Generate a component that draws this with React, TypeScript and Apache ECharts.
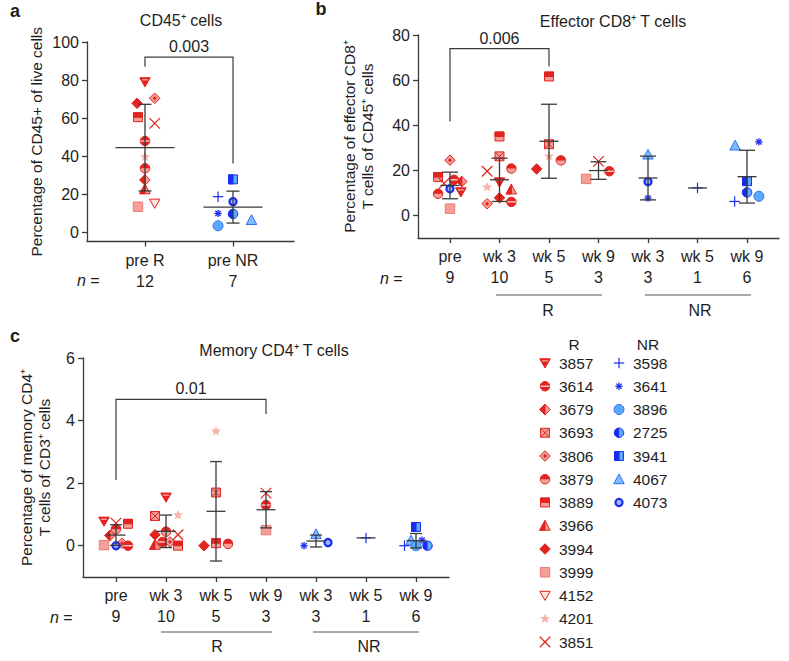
import React, { useEffect, useRef } from 'react';
import * as echarts from 'echarts';

// ---------- categories & counts ----------
const aCategories = ['pre R', 'pre NR'];
const aCounts = [12, 7];
const bCategories = ['pre', 'wk 3', 'wk 5', 'wk 9', 'wk 3', 'wk 5', 'wk 9'];
const bCounts = [9, 10, 5, 3, 3, 1, 6];
const cCategories = ['pre', 'wk 3', 'wk 5', 'wk 9', 'wk 3', 'wk 5', 'wk 9'];
const cCounts = [9, 10, 5, 3, 3, 1, 6];

// ---------- tick labels ----------
const aTicks = [0, 20, 40, 60, 80, 100];
const bTicks = [0, 20, 40, 60, 80];
const cTicks = [0, 2, 4, 6];

// ---------- legend ----------
const legendR = ['3857', '3614', '3679', '3693', '3806', '3879', '3889', '3966', '3994', '3999', '4152', '4201', '3851'];
const legendNR = ['3598', '3641', '3896', '2725', '3941', '4067', '4073'];

// ---------- panel a: CD45+ cells (% of live cells) ----------
const aPreR: [string, number][] = [['3857', 79], ['3806', 70.4], ['3994', 67.7], ['3889', 60.4], ['3851', 57.2], ['3614', 47.9], ['4201', 39.6], ['3879', 33.5], ['3679', 27.4], ['3966', 22.5], ['4152', 15.1], ['3999', 13.3]];
const aPreNR: [string, number][] = [['3941', 27.7], ['3598', 18.6], ['4073', 16], ['3641', 9.8], ['2725', 9.5], ['4067', 6.3], ['3896', 3.3]];
const aMean = [44.4, 13.1];
const aSD = [22.8, 8.4];
const aBracket = [0, 1, 92, 87, 36];
const aP = '0.003';

// ---------- panel b: effector CD8+ T cells (% of CD45+) ----------
const bPre: [string, number][] = [['3806', 24.5], ['3889', 17], ['3851', 14.2], ['3614', 15.8], ['3679', 15], ['3857', 10.4], ['4073', 11.8], ['3879', 9.6], ['3999', 3]];
const bWk3R: [string, number][] = [['3889', 35], ['3693', 26.2], ['3851', 19.6], ['3879', 20.8], ['4201', 12.5], ['3857', 14.8], ['3966', 11.5], ['3994', 7.8], ['3806', 5.2], ['3614', 6.0]];
const bWk5R: [string, number][] = [['3889', 61.6], ['3693', 31.6], ['4201', 26.2], ['3994', 20.6], ['3879', 24.4]];
const bWk9R: [string, number][] = [['3851', 24], ['3614', 19.6], ['3999', 16.2]];
const bWk3NR: [string, number][] = [['4067', 27], ['4073', 15], ['3641', 7.7]];
const bWk5NR: [string, number][] = [['3598', 12.2]];
const bWk9NR: [string, number][] = [['4067', 31], ['3641', 32.6], ['3941', 15.2], ['2725', 10.2], ['3896', 8.5], ['3598', 6.2]];
const bMean = [13.3, 15.8, 32.9, 19.9, 16.6, 12.2, 17.2];
const bSD = [5.9, 9.6, 16.4, 3.9, 9.7, 0, 11.7];
const bBracket = [0, 2, 74, 41.7, 66];
const bP = '0.006';

// ---------- panel c: memory CD4+ T cells (% of CD3+) ----------
const cPre: [string, number][] = [['3857', 0.78], ['3851', 0.72], ['3889', 0.7], ['3879', 0.53], ['3679', 0.33], ['3806', 0.08], ['3999', 0.02], ['4073', 0], ['3614', 0]];
const cWk3R: [string, number][] = [['3857', 1.55], ['3693', 0.95], ['4201', 0.98], ['3851', 0.35], ['3994', 0.35], ['3879', 0.45], ['3966', 0.03], ['3614', 0.12], ['3806', 0.12], ['3889', 0]];
const cWk5R: [string, number][] = [['4201', 3.66], ['3693', 1.7], ['3889', 0.08], ['3994', 0], ['3879', 0.06]];
const cWk9R: [string, number][] = [['3851', 1.68], ['3614', 1.3], ['3999', 0.5]];
const cWk3NR: [string, number][] = [['4067', 0.37], ['3641', 0], ['4073', 0.1]];
const cWk5NR: [string, number][] = [['3598', 0.25]];
const cWk9NR: [string, number][] = [['3941', 0.6], ['4067', 0.17], ['3641', 0.18], ['3598', 0], ['2725', 0], ['3896', 0]];
const cMean = [0.34, 0.46, 1.1, 1.15, 0.15, 0.25, 0.16];
const cSD = [0.33, 0.52, 1.59, 0.58, 0.19, 0, 0.23];
const cBracket = [0, 3, 4.68, 2.1, 4.21];
const cP = '0.01';

// ---------- layout: horizontal jitter (in category units) ----------
const aJitter = [
  [0, 0.11, -0.09, -0.08, 0.11, 0, 0, 0, 0, 0, 0.11, -0.08],
  [0, -0.17, 0, -0.17, 0, 0.21, -0.17],
];
const bJitter = [
  [0, -0.24, -0.12, 0.08, 0.24, 0.22, 0, -0.24, 0],
  [0, 0, -0.25, 0.24, -0.25, 0, 0.24, 0, -0.25, 0.24],
  [0, 0, 0, -0.25, 0.24],
  [0, 0.22, -0.25],
  [0, 0, 0],
  [0],
  [-0.24, 0.24, 0, 0, 0.24, -0.25],
];
const cJitter = [
  [-0.24, 0, 0.24, 0, -0.12, 0.12, -0.24, 0, 0.24],
  [0, -0.22, 0.24, 0.24, -0.22, 0, -0.22, -0.07, 0.08, 0.24],
  [0, 0, 0, -0.24, 0.24],
  [0, 0, 0],
  [0, -0.24, 0.24],
  [0],
  [0, -0.1, 0.12, -0.23, 0.23, 0],
];

// ---------- styles ----------
const FONT = '"Liberation Sans", Arial, Helvetica, sans-serif';
const FS = 16;
const TXT = '#1e1e1e';
const AX = '#3a3a3a';
const RED = '#e2231f';
const RED_L = '#f3a098';
const RED_P = '#f7b4ab';
const RED_XL = '#fcdcd8';
const BLUE = '#1b2cf0';
const BLUE_L = '#5aaaff';
const BLUE_M = '#2f6ff5';
const MS = 10.5;

function poly(points: number[][], fill: string, stroke: string, lw = 1) {
  return { type: 'polygon', shape: { points }, style: { fill, stroke, lineWidth: lw } };
}
function seg(x1: number, y1: number, x2: number, y2: number, stroke: string, lw = 1.2) {
  return { type: 'line', shape: { x1, y1, x2, y2 }, style: { stroke, lineWidth: lw } };
}
function circ(r: number, fill: string, stroke: string, lw = 1) {
  return { type: 'circle', shape: { cx: 0, cy: 0, r }, style: { fill, stroke, lineWidth: lw } };
}
function sect(r: number, a0: number, a1: number, fill: string) {
  return { type: 'sector', shape: { cx: 0, cy: 0, r0: 0, r, startAngle: a0, endAngle: a1, clockwise: true }, style: { fill } };
}
function box(x: number, y: number, w: number, h: number, fill: string, stroke: string, lw = 1) {
  return { type: 'rect', shape: { x, y, width: w, height: h }, style: { fill, stroke, lineWidth: lw } };
}

function marker(id: string, s: number): any[] {
  const h = s / 2;
  const D = [[0, -h], [h, 0], [0, h], [-h, 0]];
  const Tup = [[0, -h], [h, 0.85 * h], [-h, 0.85 * h]];
  const Tdn = [[-h, -0.8 * h], [h, -0.8 * h], [0, 0.95 * h]];
  const q = 0.85 * h;
  switch (id) {
    case '3857':
      return [poly(Tdn, RED, RED), seg(-0.55 * h, -0.4 * h, 0.55 * h, -0.4 * h, RED_P, 1.2)];
    case '3614':
      return [circ(0.9 * h, RED, RED), seg(-0.85 * h, 0, 0.85 * h, 0, RED_XL, 1.3)];
    case '3679':
      return [poly(D, RED_L, RED), poly([[0, -h], [0, h], [-h, 0]], RED, RED)];
    case '3693':
      return [box(-q, -q, 2 * q, 2 * q, RED_L, RED), seg(-q, -q, q, q, RED, 1), seg(-q, q, q, -q, RED, 1)];
    case '3806':
      return [poly(D, RED_L, RED), circ(1.4, RED, RED, 0.5)];
    case '3879':
      return [circ(0.9 * h, RED_L, RED), sect(0.9 * h, Math.PI, 2 * Math.PI, RED)];
    case '3889':
      return [box(-q, -q, 2 * q, 2 * q, RED_L, RED), box(-q, -q, 2 * q, q, RED, RED)];
    case '3966':
      return [poly(Tup, RED_L, RED), poly([[0, -h], [0, 0.85 * h], [-h, 0.85 * h]], RED, RED)];
    case '3994':
      return [poly(D, RED, RED)];
    case '3999':
      return [box(-0.9 * h, -0.9 * h, 1.8 * h, 1.8 * h, RED_L, '#ec7a72')];
    case '4152':
      return [poly(Tdn, '#fde2de', RED)];
    case '4201': {
      const pts: number[][] = [];
      for (let i = 0; i < 10; i++) {
        const r = i % 2 === 0 ? h : 0.45 * h;
        const a = -Math.PI / 2 + (i * Math.PI) / 5;
        pts.push([r * Math.cos(a), r * Math.sin(a)]);
      }
      return [{ type: 'polygon', shape: { points: pts }, style: { fill: RED_P } }];
    }
    case '3851':
      return [seg(-h, -h, h, h, RED, 1.2), seg(-h, h, h, -h, RED, 1.2)];
    case '3598':
      return [seg(-h, 0, h, 0, BLUE, 1.2), seg(0, -h, 0, h, BLUE, 1.2)];
    case '3641': {
      const r = 0.7 * h;
      const d = r * 0.72;
      return [seg(-r, 0, r, 0, BLUE, 1.3), seg(0, -r, 0, r, BLUE, 1.3), seg(-d, -d, d, d, BLUE, 1.3), seg(-d, d, d, -d, BLUE, 1.3)];
    }
    case '3896':
      return [circ(0.95 * h, BLUE_L, BLUE_M)];
    case '2725':
      return [circ(0.9 * h, BLUE_L, BLUE), sect(0.9 * h, Math.PI / 2, (3 * Math.PI) / 2, BLUE)];
    case '3941':
      return [box(-q, -q, 2 * q, 2 * q, BLUE_L, BLUE), box(-q, -q, q, 2 * q, BLUE, BLUE)];
    case '4067':
      return [poly(Tup, '#7fbcff', BLUE_M)];
    case '4073':
      return [circ(0.68 * h, '#9ab8ff', BLUE, 2.2)];
    default:
      return [];
  }
}

function xAxisFor(gi: number, min: number, max: number, cats: string[], counts: number[]) {
  const vals = cats.map((_, i) => i);
  return {
    type: 'value', gridIndex: gi, min, max,
    axisLine: { show: true, onZero: false, lineStyle: { color: AX, width: 1.3 } },
    axisTick: { show: true, length: 5, customValues: vals, lineStyle: { color: AX, width: 1.3 } },
    axisLabel: {
      customValues: vals,
      formatter: (v: number) => { const i = Math.round(v); return cats[i] + '\n' + counts[i]; },
      fontSize: FS, lineHeight: 21, color: TXT, fontFamily: FONT, margin: 8,
    },
    splitLine: { show: false },
  };
}

function yAxisFor(gi: number, min: number, max: number, ticks: number[], name: string, nameGap: number) {
  return {
    type: 'value', gridIndex: gi, min, max,
    axisLine: { show: true, onZero: false, lineStyle: { color: AX, width: 1.3 } },
    axisTick: { show: true, length: 5, customValues: ticks, lineStyle: { color: AX, width: 1.3 } },
    axisLabel: { customValues: ticks, fontSize: FS, color: TXT, fontFamily: FONT, margin: 8 },
    splitLine: { show: false },
    name, nameLocation: 'middle', nameGap, nameRotate: 90,
    nameTextStyle: { fontSize: 15.5, color: TXT, fontFamily: FONT, lineHeight: 18 },
  };
}

function pointSeries(gi: number, groups: [string, number][][], jitter: number[][]) {
  const ids: string[] = [];
  const data: number[][] = [];
  groups.forEach((g, i) => g.forEach(([id, v], k) => { ids.push(id); data.push([i + jitter[i][k], v]); }));
  return {
    type: 'custom', xAxisIndex: gi, yAxisIndex: gi, data, encode: { x: 0, y: 1 }, silent: true, z: 3,
    renderItem: (params: any, api: any) => {
      const p = api.coord([api.value(0), api.value(1)]);
      return { type: 'group', x: p[0], y: p[1], children: marker(ids[params.dataIndex], MS) };
    },
  };
}

function errorSeries(gi: number, means: number[], sds: number[], meanHalf: number, capHalf: number) {
  const data = means.map((m, i) => [i, m, sds[i]]);
  return {
    type: 'custom', xAxisIndex: gi, yAxisIndex: gi, data, encode: { x: 0, y: 1 }, silent: true, z: 4,
    renderItem: (_params: any, api: any) => {
      const x = api.value(0), m = api.value(1), sd = api.value(2);
      const c = api.coord([x, m]);
      const top = api.coord([x, m + sd])[1];
      const bot = api.coord([x, m - sd])[1];
      const st = { stroke: AX, lineWidth: 1.3 };
      const ch: any[] = [{ type: 'line', shape: { x1: c[0] - meanHalf, y1: c[1], x2: c[0] + meanHalf, y2: c[1] }, style: st }];
      if (sd > 0) {
        ch.push({ type: 'line', shape: { x1: c[0], y1: top, x2: c[0], y2: bot }, style: st });
        ch.push({ type: 'line', shape: { x1: c[0] - capHalf, y1: top, x2: c[0] + capHalf, y2: top }, style: st });
        ch.push({ type: 'line', shape: { x1: c[0] - capHalf, y1: bot, x2: c[0] + capHalf, y2: bot }, style: st });
      }
      return { type: 'group', children: ch };
    },
  };
}

function bracketSeries(gi: number, br: number[], label: string) {
  return {
    type: 'custom', xAxisIndex: gi, yAxisIndex: gi, data: [br], encode: { x: [0, 1], y: [2, 3, 4] }, silent: true, z: 5,
    renderItem: (_params: any, api: any) => {
      const l = api.coord([api.value(0), api.value(2)]);
      const r = api.coord([api.value(1), api.value(2)]);
      const lb = api.coord([api.value(0), api.value(3)]);
      const rb = api.coord([api.value(1), api.value(4)]);
      return {
        type: 'group',
        children: [
          { type: 'polyline', shape: { points: [lb, l, r, rb] }, style: { stroke: AX, lineWidth: 1.2, fill: 'none' } },
          { type: 'text', x: (l[0] + r[0]) / 2, y: l[1] - 10.5, style: { text: label, textAlign: 'center', textVerticalAlign: 'middle', verticalAlign: 'middle', fontSize: FS, fontFamily: FONT, fill: TXT } },
        ],
      };
    },
  };
}

function txt(x: number, y: number, text: string, extra: any = {}) {
  return {
    type: 'text', x, y,
    style: { text, fontSize: FS, fontFamily: FONT, fill: TXT, textAlign: 'center', textVerticalAlign: 'middle', verticalAlign: 'middle', ...extra },
  };
}
function nEq(x: number, y: number) {
  return {
    type: 'text', x, y,
    style: {
      text: '{i|n} =', fontSize: FS, fontFamily: FONT, fill: TXT, textAlign: 'left', textVerticalAlign: 'middle', verticalAlign: 'middle',
      rich: { i: { fontStyle: 'italic', fontSize: FS, fontFamily: FONT, fill: TXT } },
    },
  };
}
function hline(x1: number, x2: number, y: number) {
  return { type: 'line', shape: { x1, y1: y, x2, y2: y }, style: { stroke: '#555', lineWidth: 1 } };
}

function buildGraphic() {
  const g: any[] = [];
  g.push(txt(15, 11, 'a', { fontWeight: 'bold', fontSize: 18 }));
  g.push(txt(321, 9, 'b', { fontWeight: 'bold', fontSize: 18 }));
  g.push(txt(15, 336, 'c', { fontWeight: 'bold', fontSize: 18 }));
  g.push(txt(181, 20, 'CD45⁺ cells'));
  g.push(txt(613, 21, 'Effector CD8⁺ T cells'));
  g.push(txt(274, 350, 'Memory CD4⁺ T cells'));
  g.push(nEq(77, 280));
  g.push(nEq(380, 278));
  g.push(nEq(50, 617));
  g.push(hline(496, 602, 295), hline(645, 751, 295));
  g.push(txt(548, 310, 'R'), txt(700, 310, 'NR'));
  g.push(hline(161, 272, 632), hline(313, 419, 632));
  g.push(txt(217, 646, 'R'), txt(369, 646, 'NR'));
  g.push(txt(574, 344, 'R', { fontSize: 15.5 }), txt(648, 344, 'NR', { fontSize: 15.5 }));
  legendR.forEach((id, i) => {
    const y = 363 + 23.25 * i;
    g.push({ type: 'group', x: 545, y, children: marker(id, MS) });
    g.push(txt(559, y, id, { textAlign: 'left', fontSize: 15.5 }));
  });
  legendNR.forEach((id, i) => {
    const y = 363 + 23.25 * i;
    g.push({ type: 'group', x: 619, y, children: marker(id, MS) });
    g.push(txt(633, y, id, { textAlign: 'left', fontSize: 15.5 }));
  });
  return g;
}

export default function App() {
  const ref = useRef<HTMLDivElement>(null);
  useEffect(() => {
    if (!ref.current) return;
    const chart = echarts.init(ref.current, undefined, { renderer: 'svg' });
    const option: any = {
      animation: false,
      backgroundColor: '#ffffff',
      textStyle: { fontFamily: FONT },
      grid: [
        { left: 87, top: 42, width: 207, height: 199.5 },
        { left: 418, top: 35, width: 361, height: 203 },
        { left: 83, top: 358, width: 366, height: 219 },
      ],
      xAxis: [
        xAxisFor(0, -0.659, 1.693, aCategories, aCounts),
        xAxisFor(1, -0.646, 6.646, bCategories, bCounts),
        xAxisFor(2, -0.66, 6.66, cCategories, cCounts),
      ],
      yAxis: [
        yAxisFor(0, -5, 100, aTicks, 'Percentage of CD45+ of live cells', 42),
        yAxisFor(1, -10, 80, bTicks, 'Percentage of effector CD8⁺\nT cells of CD45⁺ cells', 42),
        yAxisFor(2, -1, 6, cTicks, 'Percentage of memory CD4⁺\nT cells of CD3⁺ cells', 30),
      ],
      series: [
        pointSeries(0, [aPreR, aPreNR], aJitter),
        errorSeries(0, aMean, aSD, 29.5, 6.5),
        bracketSeries(0, aBracket, aP),
        pointSeries(1, [bPre, bWk3R, bWk5R, bWk9R, bWk3NR, bWk5NR, bWk9NR], bJitter),
        errorSeries(1, bMean, bSD, 9.5, 8),
        bracketSeries(1, bBracket, bP),
        pointSeries(2, [cPre, cWk3R, cWk5R, cWk9R, cWk3NR, cWk5NR, cWk9NR], cJitter),
        errorSeries(2, cMean, cSD, 9.5, 6),
        bracketSeries(2, cBracket, cP),
      ],
      graphic: buildGraphic(),
    };
    chart.setOption(option);
    return () => chart.dispose();
  }, []);
  return (
    <div
      ref={ref}
      style={{ position: 'fixed', left: 0, top: 0, width: 789, height: 661, background: '#fff' }}
    />
  );
}
